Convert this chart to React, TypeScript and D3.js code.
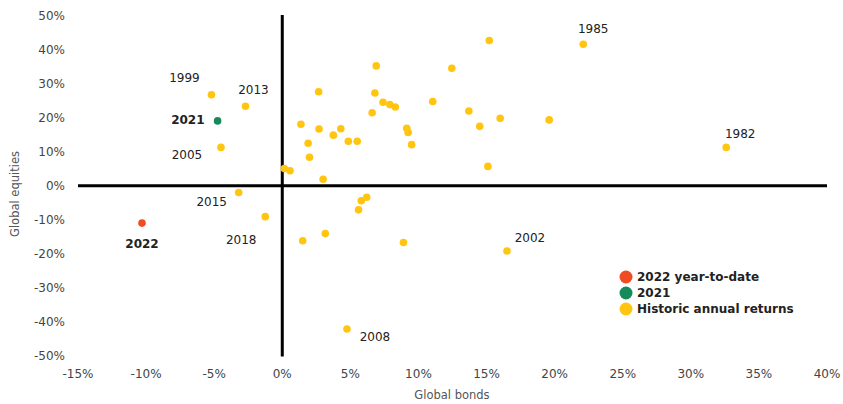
import React, { useEffect, useRef } from 'react';
import * as d3 from 'd3';

// historic annual returns (%)
const historicBonds = [
  -5.2, -2.7, -4.5, 0.15, 0.57, -3.2, -1.25, 15.2, 6.9, 12.45, 2.67, 6.8, 7.4, 7.9, 8.3,
  11.05, 6.6, 13.7, 16.0, 19.6, 14.5, 1.37, 2.7, 4.3, 3.75, 9.14, 9.24, 4.85, 5.5, 9.5,
  1.9, 2.0, 15.1, 3.0, 5.8, 6.2, 5.6, 1.5, 3.16, 8.9, 16.5, 4.75, 22.1, 32.6,
];
const historicEquities = [
  26.8, 23.4, 11.3, 5.1, 4.4, -2.0, -9.1, 42.8, 35.3, 34.6, 27.7, 27.3, 24.6, 23.9, 23.2,
  24.8, 21.5, 22.0, 19.9, 19.4, 17.5, 18.1, 16.7, 16.8, 14.9, 16.9, 15.7, 13.1, 13.1, 12.1,
  12.5, 8.4, 5.7, 1.9, -4.4, -3.4, -7.1, -16.2, -14.1, -16.7, -19.2, -42.2, 41.7, 11.3,
];
const historicLabels = [
  '1999', '2013', '2005', '', '', '2015', '2018', '', '', '', '', '', '', '', '',
  '', '', '', '', '', '', '', '', '', '', '', '', '', '', '',
  '', '', '', '', '', '', '', '', '', '', '2002', '2008', '1985', '1982',
];

const point2021 = { year: '2021', bonds: -4.75, equities: 19.1 };
const point2022 = { year: '2022', bonds: -10.3, equities: -11.0 };

const xTicks = [-15, -10, -5, 0, 5, 10, 15, 20, 25, 30, 35, 40];
const yTicks = [50, 40, 30, 20, 10, 0, -10, -20, -30, -40, -50];

const legendItems = ['2022 year-to-date', '2021', 'Historic annual returns'];

const YELLOW = '#FFC510';
const RED = '#F04B23';
const GREEN = '#168A5A';

// label offsets from their dot, px
const labelOffset: Record<string, [number, number, string]> = {
  '1999': [-27, -17, 'middle'],
  '2013': [8, -17, 'middle'],
  '2005': [-34, 7, 'middle'],
  '2015': [-27, 9, 'middle'],
  '2018': [-24, 23, 'middle'],
  '2002': [23, -13, 'middle'],
  '2008': [28, 8, 'middle'],
  '1985': [10, -15, 'middle'],
  '1982': [14, -14, 'middle'],
  '2021': [-13, -1, 'end'],
  '2022': [0, 21, 'middle'],
};

const App = () => {
  const svgRef = useRef<SVGSVGElement>(null);

  useEffect(() => {
    const width = 843;
    const height = 404;
    const font = '"DejaVu Sans", Verdana, sans-serif';

    const x = d3.scaleLinear().domain([-15, 40]).range([78, 827]);
    const y = d3.scaleLinear().domain([-50, 50]).range([355.5, 16]);

    const svg = d3.select(svgRef.current)
      .attr('width', width)
      .attr('height', height)
      .attr('viewBox', [0, 0, width, height].join(' '));
    svg.selectAll('*').remove();

    // tick labels
    svg.append('g')
      .selectAll('text')
      .data(yTicks)
      .join('text')
      .attr('x', 65)
      .attr('y', d => y(d))
      .attr('dy', '0.35em')
      .attr('text-anchor', 'end')
      .attr('font-family', font)
      .attr('font-size', 12)
      .attr('fill', '#444')
      .text(d => `${d}%`);

    svg.append('g')
      .selectAll('text')
      .data(xTicks)
      .join('text')
      .attr('x', d => x(d))
      .attr('y', 374)
      .attr('dy', '0.35em')
      .attr('text-anchor', 'middle')
      .attr('font-family', font)
      .attr('font-size', 12)
      .attr('fill', '#444')
      .text(d => `${d}%`);

    // axis titles
    svg.append('text')
      .attr('x', 452)
      .attr('y', 395)
      .attr('dy', '0.35em')
      .attr('text-anchor', 'middle')
      .attr('font-family', font)
      .attr('font-size', 11.5)
      .attr('fill', '#555')
      .text('Global bonds');

    svg.append('text')
      .attr('transform', 'translate(15,194) rotate(-90)')
      .attr('dy', '0.35em')
      .attr('text-anchor', 'middle')
      .attr('font-family', font)
      .attr('font-size', 11.5)
      .attr('fill', '#555')
      .text('Global equities');

    // cross axes through zero
    svg.append('line')
      .attr('x1', x(-15)).attr('x2', x(40))
      .attr('y1', y(0)).attr('y2', y(0))
      .attr('stroke', '#000').attr('stroke-width', 3);
    svg.append('line')
      .attr('x1', x(0)).attr('x2', x(0))
      .attr('y1', y(50) - 1).attr('y2', y(-50) + 1)
      .attr('stroke', '#000').attr('stroke-width', 3);

    const historic = historicBonds.map((b, i) => ({
      bonds: b,
      equities: historicEquities[i],
      year: historicLabels[i],
    }));

    svg.append('g')
      .selectAll('circle')
      .data(historic)
      .join('circle')
      .attr('cx', d => x(d.bonds))
      .attr('cy', d => y(d.equities))
      .attr('r', 3.8)
      .attr('fill', YELLOW);

    svg.append('circle')
      .attr('cx', x(point2021.bonds)).attr('cy', y(point2021.equities))
      .attr('r', 3.8).attr('fill', GREEN);
    svg.append('circle')
      .attr('cx', x(point2022.bonds)).attr('cy', y(point2022.equities))
      .attr('r', 3.8).attr('fill', RED);

    // year annotations
    const labelled = [
      ...historic.filter(d => d.year).map(d => ({ ...d, bold: false })),
      { ...point2021, bold: true },
      { ...point2022, bold: true },
    ];
    svg.append('g')
      .selectAll('text')
      .data(labelled)
      .join('text')
      .attr('x', d => x(d.bonds) + labelOffset[d.year][0])
      .attr('y', d => y(d.equities) + labelOffset[d.year][1])
      .attr('dy', '0.35em')
      .attr('text-anchor', d => labelOffset[d.year][2])
      .attr('font-family', font)
      .attr('font-size', 12)
      .attr('font-weight', d => (d.bold ? 'bold' : 'normal'))
      .attr('fill', '#222')
      .text(d => d.year);

    // legend
    const legendColors = [RED, GREEN, YELLOW];
    const legend = svg.append('g').attr('transform', 'translate(626,277)');
    legend.selectAll('circle')
      .data(legendItems)
      .join('circle')
      .attr('cx', 0)
      .attr('cy', (d, i) => i * 16)
      .attr('r', 6.5)
      .attr('fill', (d, i) => legendColors[i]);
    legend.selectAll('text')
      .data(legendItems)
      .join('text')
      .attr('x', 11)
      .attr('y', (d, i) => i * 16)
      .attr('dy', '0.35em')
      .attr('font-family', font)
      .attr('font-size', 12)
      .attr('font-weight', 'bold')
      .attr('fill', '#222')
      .text(d => d);
  }, []);

  return (
    <svg
      ref={svgRef}
      style={{ position: 'absolute', left: 0, top: 0, background: '#fff' }}
    />
  );
};

export default App;
